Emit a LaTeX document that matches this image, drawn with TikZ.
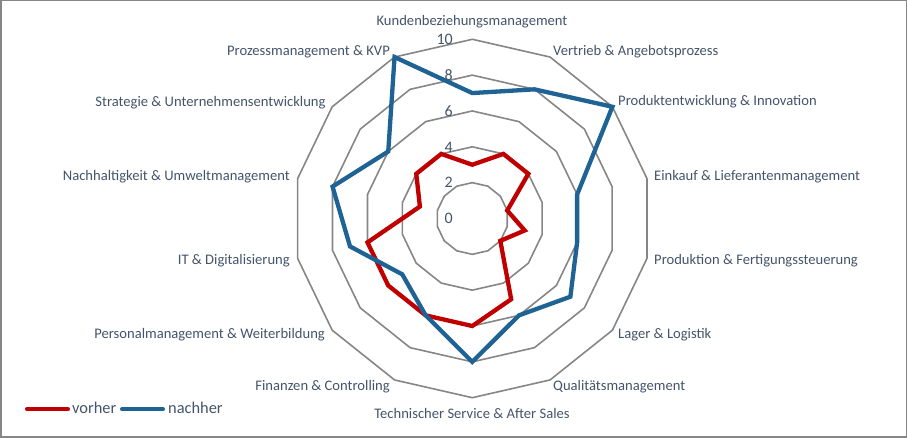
\documentclass[tikz,border=0pt]{standalone}
\usepackage{fontspec}
\setmainfont{Carlito}
\definecolor{lbl}{RGB}{68,84,106}
\definecolor{gridc}{RGB}{134,134,134}
\definecolor{redc}{RGB}{192,0,0}
\definecolor{bluec}{RGB}{31,99,148}
\begin{document}
\begin{tikzpicture}[x=1pt,y=1pt,
  gridline/.style={draw=gridc, line width=1.6pt, line join=miter},
  redline/.style={draw=redc, line width=4.3pt, line join=miter},
  blueline/.style={draw=bluec, line width=4.3pt, line join=miter},
  lab/.style={font=\fontsize{14.6}{16}\selectfont, text=lbl, inner sep=0pt},
  tick/.style={font=\fontsize{16}{18}\selectfont, text=lbl, inner sep=0pt, anchor=base east},
  leg/.style={font=\fontsize{16.4}{18}\selectfont, text=lbl, inner sep=0pt, anchor=base west}]
\useasboundingbox (0,0) rectangle (907,438);
\draw[gridc, line width=1.5pt] (0.75,0.75) rectangle (906.25,437.25);
\coordinate (c) at (472.3,219.5);
\def\u{17.92pt}
\begin{scope}[shift={(c)}]
  \foreach \k in {1,...,5}
    \draw[gridline] (90:\k*35.84pt) \foreach \i in {1,...,13}{ -- ({90-\i*360/14}:\k*35.84pt)} -- cycle;
  \draw[redline] (90:3*\u) \foreach \v [count=\i] in {4,4,2,3,2,5,6,6,6,6,3,4,4}{ -- ({90-\i*360/14}:\v*\u)} -- cycle;
  \draw[blueline] (90:7*\u) \foreach \v [count=\i] in {8,10,6,6,7,6,8,6,5,7,8,6,10}{ -- ({90-\i*360/14}:\v*\u)} -- cycle;
  \foreach \k/\t in {0/0,1/2,2/4,3/6,4/8,5/10}
    \node[tick] (t\k) at (-19.3,{-5.2+\k*35.84}) {\t};
\end{scope}
% axis labels
\node[lab, anchor=base] (l0) at (472,412.5) {Kundenbeziehungsmanagement};
\node[lab, anchor=base west] (l1) at (553,382.8) {Vertrieb \& Angebotsprozess};
\node[lab, anchor=base west] (l2) at (618,332.5) {Produktentwicklung \& Innovation};
\node[lab, anchor=base west] (l3) at (654,257.5) {Einkauf \& Lieferantenmanagement};
\node[lab, anchor=base west] (l4) at (654,173.5) {Produktion \& Fertigungssteuerung};
\node[lab, anchor=base west] (l5) at (618,99.5) {Lager \& Logistik};
\node[lab, anchor=base west] (l6) at (553,47.5) {Qualitätsmanagement};
\node[lab, anchor=base] (l7) at (472,19.5) {Technischer Service \& After Sales};
\node[lab, anchor=base east] (l8) at (390,47.5) {Finanzen \& Controlling};
\node[lab, anchor=base east] (l9) at (325,99.5) {Personalmanagement \& Weiterbildung};
\node[lab, anchor=base east] (l10) at (290,173.5) {IT \& Digitalisierung};
\node[lab, anchor=base east] (l11) at (290,257.5) {Nachhaltigkeit \& Umweltmanagement};
\node[lab, anchor=base east] (l12) at (325.7,331.8) {Strategie \& Unternehmensentwicklung};
\node[lab, anchor=base east] (l13) at (390,382.8) {Prozessmanagement \& KVP};
% legend
\coordinate (r1) at (27,28.7);
\coordinate (r2) at (68,28.7);
\coordinate (b1) at (122,28.7);
\coordinate (b2) at (163,28.7);
\draw[draw=redc, line width=4pt, line cap=round] (r1) -- (r2);
\draw[draw=bluec, line width=4pt, line cap=round] (b1) -- (b2);
\node[leg] (lv) at (72,24) {vorher};
\node[leg] (ln) at (168,24) {nachher};
\end{tikzpicture}
\end{document}
